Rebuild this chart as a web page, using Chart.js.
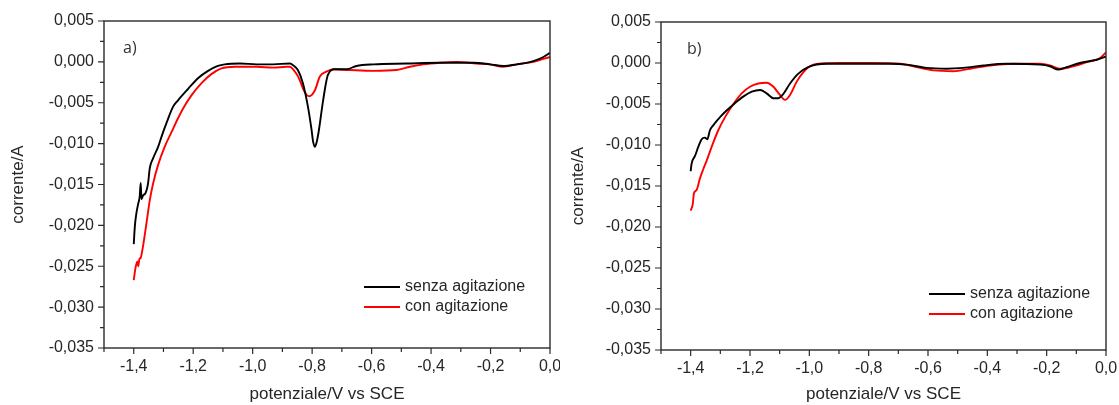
<!DOCTYPE html>
<html lang="it">

<head>
    <meta charset="UTF-8" />
    <title>Voltammetrie con e senza agitazione</title>
    <script src="https://cdn.jsdelivr.net/npm/chart.js"></script>
    <style>
        html,
        body {
            margin: 0;
            padding: 0;
            background: #fff;
        }

        body {
            position: relative;
            width: 1119px;
            height: 405px;
            overflow: hidden;
        }

        .pannello {
            position: absolute;
            top: 0;
            height: 405px;
        }

        #pannelloA {
            left: 0;
            width: 560px;
        }

        #pannelloB {
            left: 560px;
            width: 559px;
        }
    </style>
</head>

<body>

    <div class="pannello" id="pannelloA"><canvas id="graficoA"></canvas></div>
    <div class="pannello" id="pannelloB"><canvas id="graficoB"></canvas></div>

    <script>
        // tick positions (V and A)
        const xTicks = [-1.5, -1.4, -1.3, -1.2, -1.1, -1.0, -0.9, -0.8, -0.7, -0.6, -0.5, -0.4, -0.3, -0.2, -0.1, 0.0];
        const yTicks = [0.005, 0.0025, 0, -0.0025, -0.005, -0.0075, -0.01, -0.0125, -0.015, -0.0175, -0.02,
            -0.0225, -0.025, -0.0275, -0.03, -0.0325, -0.035];

        const legendLabels = ["senza agitazione", "con agitazione"];

        // pannello a) - senza agitazione
        const potA_senza = [-1.400, -1.396, -1.391, -1.384, -1.380, -1.3766, -1.374, -1.368, -1.361, -1.352, -1.346,
            -1.335, -1.318, -1.307, -1.290, -1.268, -1.251, -1.217, -1.184, -1.150, -1.117, -1.094, -1.043, -0.987,
            -0.931, -0.875, -0.864, -0.848, -0.831, -0.814, -0.802, -0.797, -0.791, -0.784, -0.777, -0.763, -0.747,
            -0.724, -0.684, -0.651, -0.594, -0.482, -0.370, -0.258, -0.202, -0.157, -0.112, -0.056, -0.022, 0.000];
        const corA_senza = [-0.0223, -0.0200, -0.0185, -0.0172, -0.0165, -0.0148, -0.0168, -0.0163, -0.0161, -0.0149,
            -0.0130, -0.0118, -0.0104, -0.0092, -0.0075, -0.0055, -0.0047, -0.0033, -0.0020, -0.0011, -0.0005, -0.0003,
            -0.0002, -0.0003, -0.0003, -0.0002, -0.0004, -0.0010, -0.0026, -0.0055, -0.0083, -0.0097, -0.0104, -0.0097,
            -0.0083, -0.0047, -0.0016, -0.0009, -0.0009, -0.0005, -0.0003, -0.0002, -0.0001, -0.0001, -0.0003, -0.0005,
            -0.0003, 0.0001, 0.0006, 0.0011];

        // pannello a) - con agitazione
        const potA_con = [-1.400, -1.394, -1.388, -1.385, -1.381, -1.377, -1.369, -1.357, -1.346, -1.335, -1.318,
            -1.296, -1.273, -1.251, -1.234, -1.206, -1.172, -1.139, -1.105, -1.060, -0.987, -0.931, -0.886, -0.875,
            -0.862, -0.847, -0.825, -0.810, -0.791, -0.774, -0.752, -0.729, -0.673, -0.594, -0.516, -0.471, -0.426,
            -0.370, -0.314, -0.247, -0.202, -0.157, -0.112, -0.056, 0.000];
        const corA_con = [-0.0267, -0.0252, -0.0244, -0.0250, -0.0241, -0.0240, -0.0226, -0.0197, -0.0169, -0.0149,
            -0.0126, -0.0104, -0.0086, -0.0069, -0.0057, -0.0041, -0.0026, -0.0015, -0.0008, -0.0006, -0.0006, -0.0007,
            -0.0006, -0.0006, -0.0010, -0.0018, -0.0037, -0.0042, -0.0035, -0.0018, -0.0012, -0.0009, -0.0010, -0.0011,
            -0.0010, -0.0006, -0.0003, -0.0001, 0.0000, -0.0002, -0.0003, -0.0006, -0.0003, 0.0000, 0.0006];

        // pannello b) - senza agitazione
        const potB_senza = [-1.400, -1.397, -1.385, -1.374, -1.363, -1.352, -1.344, -1.335, -1.324, -1.301, -1.279,
            -1.251, -1.223, -1.194, -1.166, -1.144, -1.121, -1.105, -1.088, -1.065, -1.037, -1.004, -0.942, -0.840,
            -0.728, -0.672, -0.605, -0.537, -0.481, -0.413, -0.335, -0.222, -0.189, -0.161, -0.133, -0.088, -0.031,
            0.000];
        const corB_senza = [-0.0132, -0.0123, -0.0113, -0.0102, -0.0093, -0.0091, -0.0093, -0.0082, -0.0076, -0.0066,
            -0.0058, -0.0049, -0.0041, -0.0035, -0.0033, -0.0037, -0.0043, -0.0043, -0.0038, -0.0025, -0.0013, -0.0005,
            -0.0001, -0.0001, -0.0001, -0.0002, -0.0006, -0.0007, -0.0006, -0.0003, -0.0001, -0.0002, -0.0004, -0.0008,
            -0.0005, 0.0000, 0.0004, 0.0008];

        // pannello b) - con agitazione
        const potB_con = [-1.400, -1.393, -1.389, -1.380, -1.369, -1.357, -1.346, -1.329, -1.307, -1.284, -1.256,
            -1.228, -1.200, -1.172, -1.144, -1.121, -1.099, -1.082, -1.065, -1.043, -1.020, -0.998, -0.975, -0.897,
            -0.784, -0.694, -0.638, -0.582, -0.515, -0.458, -0.391, -0.312, -0.222, -0.189, -0.157, -0.121, -0.065,
            -0.020, 0.000];
        const corB_con = [-0.0180, -0.0172, -0.0159, -0.0155, -0.0141, -0.0129, -0.0119, -0.0102, -0.0082, -0.0066,
            -0.0050, -0.0037, -0.0029, -0.0025, -0.0024, -0.0029, -0.0039, -0.0045, -0.0039, -0.0023, -0.0011, -0.0004,
            -0.0001, 0.0000, 0.0000, -0.0001, -0.0005, -0.0009, -0.0010, -0.0007, -0.0003, -0.0001, -0.0001, -0.0003,
            -0.0007, -0.0005, 0.0001, 0.0006, 0.0013];

        const FONT = '"Liberation Sans", Arial, sans-serif';
        const TEXT_COLOR = '#262626';
        const NERO = '#000000';
        const ROSSO = '#ff0000';

        function toPoints(xs, ys) {
            const n = Math.min(xs.length, ys.length);
            const pts = [];
            for (let i = 0; i < n; i++) pts.push({ x: xs[i], y: ys[i] });
            return pts;
        }

        // italian decimal comma
        function fmt(v, digits) {
            if (Math.abs(v) < 1e-12) v = 0;
            return v.toFixed(digits).replace('.', ',');
        }

        // frame, tick marks, panel label and legend
        const cornice = {
            id: 'cornice',
            afterDraw(chart, args, opts) {
                const { ctx, chartArea: a, scales } = chart;
                ctx.save();
                ctx.strokeStyle = '#2a2a2a';
                ctx.lineWidth = 1.4;
                ctx.strokeRect(a.left, a.top, a.right - a.left, a.bottom - a.top);

                ctx.lineWidth = 1.2;
                ctx.beginPath();
                scales.x.ticks.forEach(t => {
                    const px = scales.x.getPixelForValue(t.value);
                    const len = t.label !== '' ? 6 : 4;
                    ctx.moveTo(px, a.bottom);
                    ctx.lineTo(px, a.bottom + len);
                });
                scales.y.ticks.forEach(t => {
                    const py = scales.y.getPixelForValue(t.value);
                    const len = t.label !== '' ? 6 : 4;
                    ctx.moveTo(a.left, py);
                    ctx.lineTo(a.left - len, py);
                });
                ctx.stroke();

                // panel label
                ctx.fillStyle = '#333';
                ctx.font = '16px "Open Sans", sans-serif';
                ctx.textBaseline = 'middle';
                ctx.textAlign = 'left';
                ctx.fillText(opts.etichetta, opts.etX, opts.etY);

                // legend
                ctx.font = '16px ' + FONT;
                ctx.fillStyle = TEXT_COLOR;
                chart.data.datasets.forEach((ds, i) => {
                    const y = opts.legY + i * 20;
                    ctx.strokeStyle = ds.borderColor;
                    ctx.lineWidth = 2;
                    ctx.beginPath();
                    ctx.moveTo(opts.legX, y);
                    ctx.lineTo(opts.legX + 36, y);
                    ctx.stroke();
                    ctx.fillText(ds.label, opts.legX + 41, y);
                });
                ctx.restore();
            }
        };

        function makeChart(canvasId, senza, con, geo) {
            const ctx = document.getElementById(canvasId).getContext('2d');
            return new Chart(ctx, {
                type: 'line',
                data: {
                    datasets: [
                        {
                            label: legendLabels[0],
                            data: toPoints(senza[0], senza[1]),
                            borderColor: NERO,
                            borderWidth: 1.9,
                            pointRadius: 0,
                            cubicInterpolationMode: 'monotone',
                            fill: false
                        },
                        {
                            label: legendLabels[1],
                            data: toPoints(con[0], con[1]),
                            borderColor: ROSSO,
                            borderWidth: 1.9,
                            pointRadius: 0,
                            cubicInterpolationMode: 'monotone',
                            fill: false
                        }
                    ]
                },
                options: {
                    responsive: true,
                    maintainAspectRatio: false,
                    animation: false,
                    layout: {
                        padding: { left: 0, right: geo.padRight, top: geo.padTop, bottom: 0 }
                    },
                    plugins: {
                        legend: { display: false },
                        tooltip: { enabled: false },
                        cornice: {
                            etichetta: geo.etichetta,
                            etX: geo.etX,
                            etY: geo.etY,
                            legX: geo.legX,
                            legY: geo.legY
                        }
                    },
                    scales: {
                        x: {
                            type: 'linear',
                            min: -1.5,
                            max: 0,
                            afterBuildTicks: s => { s.ticks = xTicks.map(v => ({ value: v })); },
                            afterFit: s => {
                                s.height = geo.xHeight;
                                s.paddingLeft = 0;
                                s.paddingRight = 0;
                            },
                            grid: { display: false, drawTicks: false },
                            border: { display: false },
                            ticks: {
                                autoSkip: false,
                                maxRotation: 0,
                                padding: 9,
                                color: TEXT_COLOR,
                                font: { family: FONT, size: 16 },
                                callback: v => (Math.abs(Math.round(v * 10)) % 2 === 0 ? fmt(v, 1) : '')
                            },
                            title: {
                                display: true,
                                text: 'potenziale/V vs SCE',
                                color: TEXT_COLOR,
                                font: { family: FONT, size: 17 },
                                padding: { top: 0, bottom: 0 }
                            }
                        },
                        y: {
                            type: 'linear',
                            min: -0.035,
                            max: 0.005,
                            afterBuildTicks: s => { s.ticks = yTicks.map(v => ({ value: v })); },
                            afterFit: s => {
                                s.width = geo.yWidth;
                                s.paddingTop = 0;
                                s.paddingBottom = 0;
                            },
                            grid: { display: false, drawTicks: false },
                            border: { display: false },
                            ticks: {
                                autoSkip: false,
                                padding: 10,
                                color: TEXT_COLOR,
                                font: { family: FONT, size: 16 },
                                callback: v => (Math.abs(Math.round(v * 10000)) % 50 === 0 ? fmt(v, 3) : '')
                            },
                            title: {
                                display: true,
                                text: 'corrente/A',
                                color: TEXT_COLOR,
                                font: { family: FONT, size: 17 },
                                padding: { top: 8, bottom: 0 }
                            }
                        }
                    }
                },
                plugins: [cornice]
            });
        }

        makeChart('graficoA', [potA_senza, corA_senza], [potA_con, corA_con], {
            yWidth: 104, xHeight: 57, padRight: 10, padTop: 21,
            etichetta: 'a)', etX: 123, etY: 48, legX: 364, legY: 287
        });

        makeChart('graficoB', [potB_senza, corB_senza], [potB_con, corB_con], {
            yWidth: 101, xHeight: 55, padRight: 13, padTop: 22,
            etichetta: 'b)', etX: 127, etY: 49, legX: 369, legY: 294
        });
    </script>

</body>

</html>
